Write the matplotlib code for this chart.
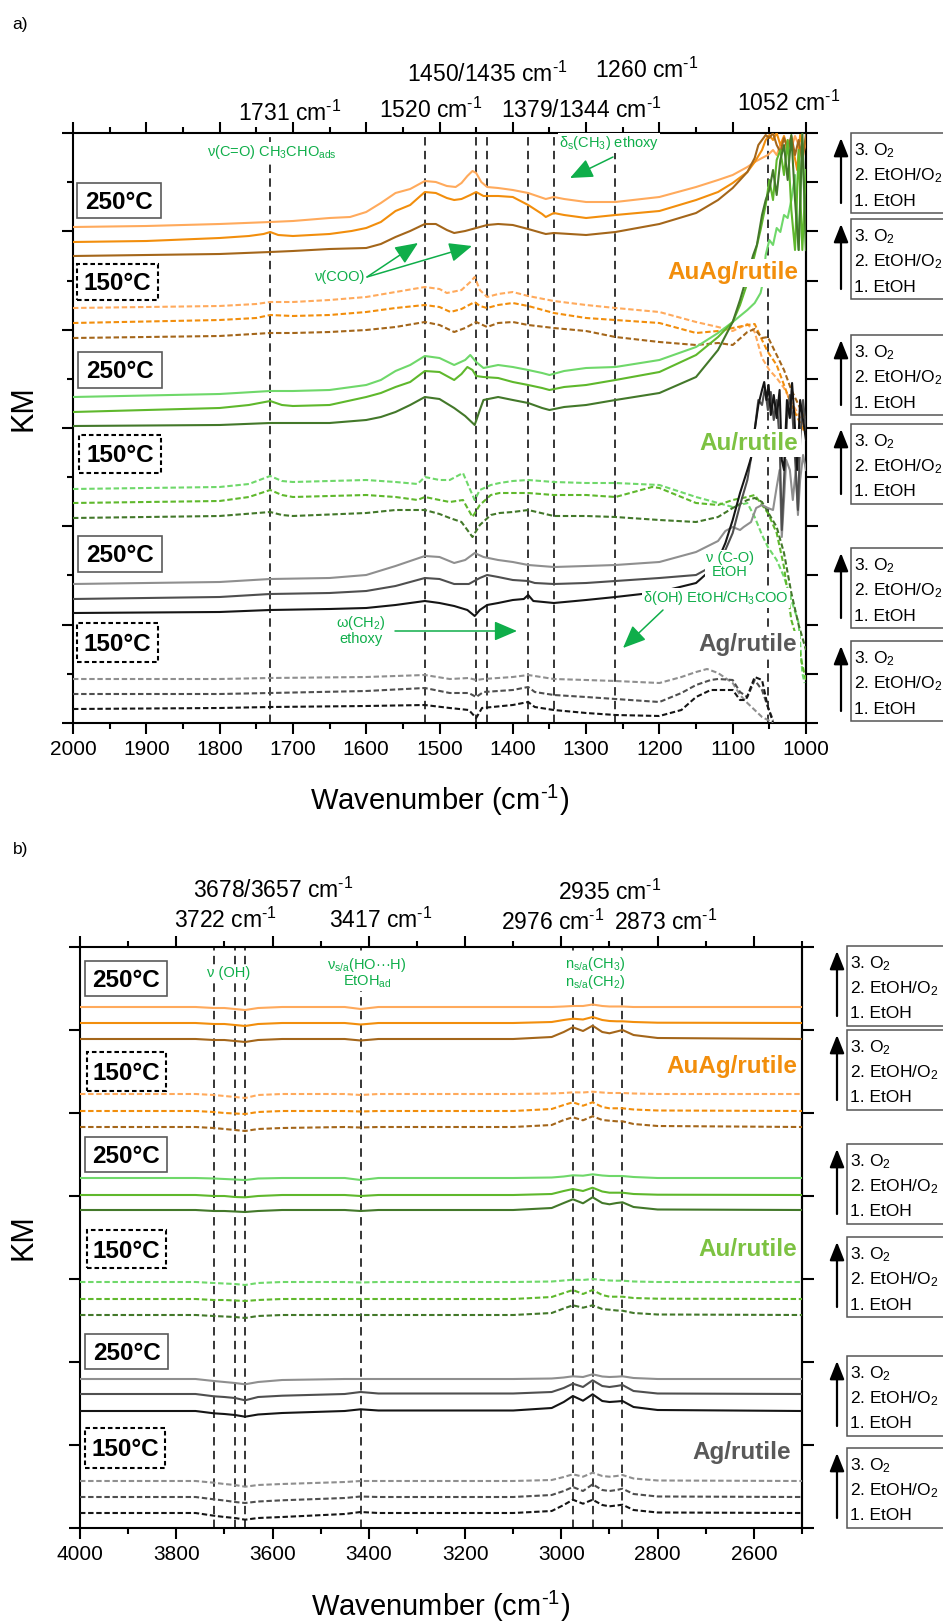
import matplotlib
matplotlib.use("Agg")
import matplotlib.pyplot as plt
from matplotlib import font_manager
from matplotlib.mathtext import MathTextParser
from matplotlib.patches import Rectangle, FancyArrowPatch
from matplotlib.ticker import MultipleLocator

# ---------------------------------------------------------------- fonts
_installed = {f.name for f in font_manager.fontManager.ttflist}
NARROW = "Liberation Sans Narrow" if "Liberation Sans Narrow" in _installed else "Liberation Sans"
TICK_SIZE = 16.5 if NARROW == "Liberation Sans Narrow" else 15
plt.rcParams["font.family"] = ["Liberation Sans", "DejaVu Sans"]
plt.rcParams["mathtext.fontset"] = "custom"
plt.rcParams["mathtext.rm"] = "Liberation Sans"
plt.rcParams["mathtext.it"] = "Liberation Sans:italic"
plt.rcParams["mathtext.bf"] = "Liberation Sans:bold"

# superscript "-1" written with a plain hyphen when mathtext allows it
try:
    MathTextParser("agg").parse(r"$^{\text{-}1}$", dpi=100)
    INV = r"$^{\text{-}1}$"
except Exception:
    INV = r"$^{-1}$"
CM = "cm" + INV

# ---------------------------------------------------------------- data
# (a) fingerprint region, KM (arbitrary units) vs wavenumber / cm-1
a_auag_250_o2 = [(2000, 496), (1900, 497), (1800, 499), (1731, 501), (1700, 502), (1650, 505), (1622, 506),
                 (1600, 511), (1580, 520), (1560, 530), (1540, 534), (1520, 542), (1505, 541), (1490, 537),
                 (1478, 536), (1470, 540), (1462, 547), (1455, 552), (1450, 550), (1443, 541), (1435, 536),
                 (1420, 535), (1400, 533), (1379, 530), (1355, 524), (1344, 526), (1330, 524), (1300, 521),
                 (1260, 521), (1200, 526), (1150, 536), (1120, 543), (1100, 548), (1080, 556), (1070, 561),
                 (1060, 565), (1052, 568), (1045, 573), (1040, 568), (1035, 578), (1030, 573), (1025, 583),
                 (1020, 575), (1015, 587), (1010, 578), (1005, 563), (1000, 583)]
a_auag_250_mix = [(2000, 481), (1900, 482), (1800, 485), (1760, 487), (1740, 489), (1731, 491), (1720, 488),
                  (1700, 487), (1650, 489), (1620, 492), (1600, 495), (1580, 501), (1560, 512), (1540, 518),
                  (1520, 531), (1505, 530), (1490, 525), (1480, 523), (1470, 524), (1458, 528), (1450, 531),
                  (1440, 527), (1420, 527), (1400, 526), (1379, 518), (1360, 509), (1355, 506), (1344, 510),
                  (1330, 508), (1300, 505), (1260, 508), (1200, 512), (1150, 523), (1120, 531), (1100, 540),
                  (1080, 551), (1070, 561), (1060, 573), (1055, 583), (1050, 588), (1045, 583), (1040, 590),
                  (1035, 578), (1030, 587), (1025, 573), (1020, 583), (1012, 553), (1008, 588), (1003, 573),
                  (1000, 585)]
a_auag_250_etoh = [(2000, 467), (1900, 468), (1800, 469), (1731, 471), (1700, 472), (1650, 474), (1600, 475),
                   (1580, 479), (1560, 486), (1540, 492), (1520, 499), (1505, 499), (1490, 493), (1480, 490),
                   (1465, 492), (1450, 495), (1435, 498), (1420, 499), (1400, 498), (1379, 494), (1360, 490),
                   (1355, 489), (1344, 490), (1300, 488), (1260, 491), (1200, 499), (1150, 510), (1120, 523),
                   (1100, 535), (1080, 551), (1070, 565), (1065, 578), (1060, 583), (1055, 588), (1050, 585),
                   (1045, 590), (1040, 578), (1035, 571), (1030, 585), (1025, 575), (1020, 587), (1015, 568),
                   (1010, 583), (1005, 563), (1000, 588)]

a_auag_150_o2 = [(2000, 415), (1800, 417), (1750, 419), (1731, 421), (1700, 421), (1650, 423), (1600, 426),
                 (1560, 431), (1520, 436), (1500, 434), (1490, 430), (1470, 433), (1458, 441), (1452, 446),
                 (1445, 433), (1435, 426), (1420, 429), (1400, 431), (1379, 427), (1344, 422), (1300, 418),
                 (1260, 415), (1200, 411), (1150, 401), (1120, 396), (1100, 392), (1080, 399), (1070, 391),
                 (1060, 365), (1050, 353), (1040, 345), (1030, 335), (1020, 321), (1010, 308), (1000, 293)]
a_auag_150_mix = [(2000, 400), (1800, 403), (1750, 405), (1731, 408), (1700, 407), (1650, 408), (1600, 411),
                  (1560, 415), (1520, 418), (1500, 416), (1485, 411), (1470, 414), (1452, 421), (1445, 417),
                  (1435, 415), (1420, 418), (1400, 420), (1379, 417), (1344, 410), (1300, 405), (1260, 403),
                  (1200, 400), (1150, 390), (1120, 392), (1100, 395), (1080, 398), (1070, 399), (1060, 383),
                  (1052, 371), (1040, 358), (1030, 338), (1020, 318), (1010, 303), (1000, 288)]
a_auag_150_etoh = [(2000, 385), (1800, 387), (1731, 390), (1700, 390), (1650, 391), (1600, 393), (1560, 396),
                   (1520, 401), (1500, 398), (1480, 391), (1465, 395), (1450, 401), (1435, 396), (1420, 400),
                   (1400, 401), (1379, 398), (1344, 395), (1300, 392), (1260, 386), (1200, 381), (1150, 378),
                   (1120, 380), (1100, 378), (1080, 391), (1070, 394), (1060, 385), (1052, 386), (1040, 368),
                   (1030, 353), (1020, 333), (1010, 318), (1000, 303)]

a_au_250_o2 = [(2000, 326), (1800, 329), (1731, 332), (1700, 332), (1650, 333), (1600, 338), (1580, 343),
               (1560, 352), (1540, 358), (1520, 367), (1500, 365), (1480, 358), (1465, 363), (1458, 368),
               (1450, 361), (1440, 355), (1420, 358), (1400, 356), (1379, 353), (1360, 350), (1350, 348),
               (1330, 352), (1300, 355), (1260, 356), (1200, 363), (1150, 376), (1120, 390), (1100, 401),
               (1080, 413), (1070, 420), (1062, 430), (1058, 443), (1055, 468), (1050, 483), (1045, 478),
               (1040, 495), (1035, 491), (1030, 508), (1025, 505), (1020, 523), (1015, 548), (1010, 473),
               (1005, 583), (1000, 473)]
a_au_250_mix = [(2000, 311), (1800, 315), (1760, 318), (1731, 322), (1715, 318), (1700, 317), (1650, 318),
                (1600, 326), (1580, 330), (1560, 336), (1540, 341), (1520, 352), (1500, 351), (1480, 343),
                (1470, 349), (1462, 356), (1455, 353), (1450, 347), (1440, 346), (1420, 345), (1400, 341),
                (1379, 338), (1360, 335), (1350, 333), (1330, 336), (1300, 338), (1260, 343), (1200, 351),
                (1150, 368), (1120, 386), (1100, 401), (1090, 418), (1080, 440), (1070, 468), (1062, 493),
                (1055, 518), (1050, 543), (1045, 523), (1040, 563), (1035, 573), (1030, 548), (1025, 583),
                (1020, 513), (1015, 473), (1010, 573), (1005, 473), (1000, 553)]
a_au_250_etoh = [(2000, 297), (1800, 298), (1731, 300), (1700, 300), (1650, 300), (1600, 303), (1580, 306),
                 (1560, 311), (1540, 318), (1520, 326), (1500, 324), (1480, 315), (1465, 307), (1452, 298),
                 (1445, 313), (1440, 323), (1420, 326), (1400, 323), (1379, 320), (1360, 315), (1350, 313),
                 (1330, 316), (1300, 318), (1260, 323), (1200, 330), (1150, 346), (1120, 373), (1100, 401),
                 (1090, 423), (1080, 448), (1072, 468), (1067, 478), (1060, 508), (1055, 523), (1050, 533),
                 (1045, 553), (1040, 528), (1035, 563), (1030, 578), (1025, 543), (1020, 588), (1015, 523),
                 (1010, 473), (1005, 590), (1000, 473)]

a_au_150_o2 = [(2000, 234), (1800, 236), (1760, 239), (1731, 247), (1715, 242), (1700, 241), (1650, 242),
               (1600, 243), (1560, 241), (1530, 239), (1520, 246), (1500, 243), (1486, 243), (1468, 250),
               (1458, 233), (1452, 223), (1445, 233), (1430, 238), (1418, 240), (1400, 242), (1379, 243),
               (1344, 241), (1300, 240), (1260, 240), (1200, 238), (1150, 226), (1120, 220), (1100, 216),
               (1080, 220), (1070, 206), (1060, 188), (1052, 176), (1040, 163), (1030, 146), (1020, 123),
               (1010, 100), (1005, 50), (1002, 40)]
a_au_150_mix = [(2000, 220), (1800, 222), (1760, 226), (1731, 233), (1715, 228), (1700, 226), (1650, 227),
                (1600, 228), (1560, 226), (1530, 223), (1520, 226), (1500, 223), (1486, 221), (1468, 223),
                (1455, 206), (1445, 218), (1430, 228), (1418, 230), (1400, 230), (1379, 230), (1344, 228),
                (1300, 228), (1260, 226), (1210, 236), (1200, 235), (1150, 220), (1120, 218), (1100, 223),
                (1080, 226), (1070, 228), (1060, 218), (1052, 210), (1040, 190), (1030, 156), (1020, 103),
                (1012, 83), (1005, 58), (1000, 43)]
a_au_150_etoh = [(2000, 205), (1800, 207), (1731, 211), (1715, 208), (1700, 207), (1600, 210), (1560, 213),
                 (1520, 213), (1500, 209), (1486, 205), (1470, 201), (1455, 186), (1445, 198), (1430, 208),
                 (1418, 210), (1400, 211), (1379, 213), (1344, 207), (1300, 207), (1260, 206), (1200, 203),
                 (1150, 201), (1120, 206), (1100, 215), (1080, 223), (1070, 225), (1060, 221), (1052, 211),
                 (1040, 196), (1030, 170), (1020, 130), (1010, 98), (1000, 73)]

a_ag_250_o2 = [(2000, 139), (1800, 141), (1731, 144), (1650, 145), (1600, 148), (1560, 157), (1540, 162),
               (1520, 167), (1500, 166), (1480, 160), (1465, 163), (1452, 170), (1440, 166), (1420, 163),
               (1400, 161), (1379, 158), (1344, 156), (1300, 157), (1260, 158), (1200, 161), (1150, 171),
               (1120, 182), (1110, 192), (1100, 196), (1090, 193), (1085, 196), (1075, 201), (1068, 215),
               (1060, 218), (1052, 215), (1045, 213), (1040, 236), (1036, 253), (1033, 186), (1030, 223),
               (1027, 263), (1022, 253), (1018, 223), (1014, 253), (1011, 208), (1008, 243), (1004, 268),
               (1000, 253)]
a_ag_250_mix = [(2000, 124), (1800, 126), (1731, 129), (1650, 130), (1600, 132), (1560, 137), (1520, 145),
                (1500, 144), (1480, 139), (1460, 139), (1445, 145), (1435, 148), (1420, 146), (1400, 143),
                (1379, 142), (1370, 140), (1344, 139), (1300, 140), (1260, 142), (1200, 145), (1150, 148),
                (1130, 156), (1120, 163), (1110, 173), (1100, 190), (1090, 218), (1080, 243), (1075, 265),
                (1070, 293), (1065, 323), (1060, 318), (1056, 335), (1052, 313), (1048, 331), (1044, 303),
                (1040, 323), (1036, 283), (1033, 193), (1030, 243), (1026, 303), (1022, 328), (1018, 303),
                (1014, 253), (1011, 213), (1008, 283), (1004, 323), (1000, 293)]
a_ag_250_etoh = [(2000, 110), (1800, 111), (1731, 113), (1650, 114), (1600, 115), (1560, 118), (1520, 122),
                 (1500, 120), (1480, 117), (1462, 113), (1452, 107), (1445, 113), (1435, 118), (1420, 120),
                 (1400, 123), (1385, 124), (1379, 128), (1372, 122), (1344, 120), (1300, 123), (1260, 126),
                 (1200, 131), (1150, 140), (1130, 153), (1120, 163), (1110, 180), (1100, 203), (1090, 230),
                 (1080, 253), (1075, 265), (1070, 293), (1065, 318), (1060, 333), (1057, 341), (1054, 323),
                 (1051, 338), (1048, 308), (1044, 328), (1040, 305), (1036, 333), (1033, 263), (1030, 253),
                 (1026, 323), (1022, 305), (1019, 340), (1016, 308), (1012, 253), (1008, 323), (1004, 303),
                 (1000, 283)]

a_ag_150_o2 = [(2000, 44), (1800, 44), (1731, 45), (1600, 46), (1520, 48), (1486, 44), (1460, 45), (1450, 43),
               (1440, 44), (1400, 46), (1379, 48), (1344, 44), (1300, 43), (1260, 42), (1200, 40), (1170, 46),
               (1150, 51), (1135, 54), (1120, 50), (1100, 40), (1090, 28), (1080, 20), (1070, 13), (1060, 6),
               (1052, 3), (1045, 0)]
a_ag_150_mix = [(2000, 29), (1800, 29), (1731, 30), (1600, 32), (1520, 35), (1486, 30), (1460, 30), (1450, 26),
                (1440, 31), (1400, 33), (1379, 36), (1370, 31), (1344, 28), (1300, 26), (1260, 24), (1200, 21),
                (1170, 30), (1150, 38), (1130, 43), (1120, 44), (1100, 43), (1090, 31), (1080, 26), (1070, 43),
                (1060, 33), (1052, 16), (1045, 3)]
a_ag_150_etoh = [(2000, 14), (1800, 15), (1731, 16), (1600, 17), (1520, 18), (1486, 15), (1460, 13), (1450, 5),
                 (1442, 15), (1400, 18), (1379, 21), (1370, 16), (1344, 13), (1300, 10), (1260, 8), (1200, 7),
                 (1170, 13), (1150, 26), (1130, 33), (1120, 33), (1100, 33), (1090, 23), (1082, 23), (1070, 46),
                 (1060, 43), (1052, 16), (1045, 1)]

a_bands = [1731, 1520, 1450, 1435, 1379, 1344, 1260, 1052]

# (b) OH / CH stretching region
b_wavenumber = [4000, 3760, 3722, 3700, 3678, 3657, 3630, 3580, 3450, 3417, 3380, 3100,
                3020, 2995, 2976, 2955, 2935, 2915, 2900, 2885, 2873, 2850, 2800, 2500]
b_auag_250_o2 = [521, 521, 520, 520, 519, 518, 520, 521, 521, 519, 521, 521,
                 521, 521.5, 522, 522, 523.5, 522, 521.5, 521.5, 521.5, 521, 521, 521]
b_auag_250_mix = [505, 505, 504, 504, 503, 502, 504, 505, 505, 503.5, 505, 505,
                  506, 508, 509.3, 508.5, 511, 508, 507, 506.7, 506.7, 506, 505.3, 505]
b_auag_250_etoh = [489, 489, 488, 488, 487, 486, 488, 489, 489, 487.5, 489, 489,
                   491, 496, 500.7, 497, 502.3, 496, 494.7, 496.5, 498, 493, 490, 489]
b_auag_150_o2 = [434, 434, 433, 432, 431, 430, 433, 434, 434, 433, 434, 434,
                 434.5, 435, 435.7, 435.5, 436.3, 435.5, 435, 435, 435, 434.5, 434, 434]
b_auag_150_mix = [417, 417, 416, 415, 414.5, 414, 416, 417, 417, 416.5, 417, 417,
                  419, 423, 425.7, 422.3, 425.7, 421, 419.7, 419.7, 419.7, 418.5, 417.5, 417]
b_auag_150_etoh = [401, 401, 400, 399, 398, 397, 399, 400, 401, 400.5, 401, 401,
                   403, 408, 410.7, 407.7, 411.7, 408, 407.3, 406.7, 406.7, 404, 402, 401]
b_au_250_o2 = [350, 350, 349.5, 349, 348.5, 348, 349.5, 350, 350, 348, 350, 350,
               350.5, 351.5, 352.7, 352.3, 353.7, 352.5, 352, 352, 352, 351, 350, 350]
b_au_250_mix = [333, 333, 332, 332, 331, 330.7, 332, 333, 333, 332, 333, 333,
                334, 337, 339, 337, 340.3, 336.5, 335.3, 335.3, 335.3, 334, 333.3, 333]
b_au_250_etoh = [318, 318, 317, 317, 316.5, 316, 317, 318, 318, 317, 318, 318,
                 320, 325, 328.7, 324.7, 330.7, 325, 323.7, 325, 325.7, 321, 318.5, 318]
b_au_150_o2 = [246, 246, 245, 244.5, 244, 243, 245, 246, 246, 245.5, 246, 246,
               246.5, 247.5, 248.3, 248, 249, 248, 247.5, 247.3, 247.3, 246.5, 246, 246]
b_au_150_mix = [229, 229, 228, 228, 227.5, 227, 228, 229, 229, 229, 229, 229,
                231, 235, 238, 234, 238, 233, 231.3, 231.3, 231.3, 230, 229.3, 229]
b_au_150_etoh = [213, 213, 212, 211.5, 211, 210, 212, 213, 213, 213, 213, 213,
                 215, 219.5, 222.7, 220.3, 222.7, 219, 218.3, 217.5, 217.3, 215, 213.5, 213]
b_ag_250_o2 = [149, 149, 147, 146, 145, 143.7, 146, 148, 149, 149, 149, 149,
               149.5, 150.5, 151.7, 151, 153.7, 151.5, 151, 151.3, 151.7, 150, 149, 149]
b_ag_250_mix = [134, 134, 131.7, 131, 130, 127.7, 131, 132.3, 134, 136, 134.5, 134.5,
                136, 140, 144.3, 141, 147.7, 142, 141, 142, 143, 137, 134.5, 134]
b_ag_250_etoh = [117, 117, 114.7, 114, 113, 111.3, 113.5, 115, 117, 118.7, 117.5, 117.5,
                 120, 126, 132, 127.3, 133.7, 127, 126, 126.5, 127, 121, 118, 117]
b_ag_150_o2 = [47, 47, 45.3, 44, 43, 41.3, 43, 44, 46, 47, 47, 47,
               48, 51, 53.7, 51.3, 55.3, 52, 51.3, 52, 53, 49.5, 47.5, 47]
b_ag_150_mix = [31, 31, 28.7, 27.5, 26, 25, 26.5, 27.7, 30, 31.5, 31, 31,
                33, 37, 41, 37, 43.7, 38, 37, 38, 39.3, 34, 31.5, 31]
b_ag_150_etoh = [15, 15, 12.3, 11, 10, 8.3, 10, 11, 14, 16, 15, 15,
                 17, 23, 28.3, 24.3, 28.3, 23, 21.7, 22.5, 23.3, 18, 15.5, 15]

b_bands = [3722, 3678, 3657, 3417, 2976, 2935, 2873]

stage_labels = ["3. O$_2$", "2. EtOH/O$_2$", "1. EtOH"]
catalysts = ["AuAg/rutile", "Au/rutile", "Ag/rutile"]
temperatures = ["250°C", "150°C"]

# ---------------------------------------------------------------- style
AUAG = ["#FFAA5C", "#F28E0C", "#A4661A"]
AU = ["#6FD86A", "#5FB82C", "#43782A"]
AG = ["#8F8F8F", "#4F4F4F", "#151515"]
LABEL_COL = ["#F28E0C", "#7DC242", "#595959"]
GREEN = "#0FAE4A"

W_PX, H_PX = 943, 1622
fig = plt.figure(figsize=(W_PX / 100, H_PX / 100), dpi=100)


def fx(x):
    return x / W_PX


def fy(y):
    return 1.0 - y / H_PX


ax_a = fig.add_axes([fx(73), fy(723), (806 - 73) / W_PX, (723 - 133) / H_PX])
ax_b = fig.add_axes([fx(80), fy(1528), (802 - 80) / W_PX, (1528 - 947) / H_PX])


def draw_curve(ax, wn, km, color, dashed):
    if dashed:
        ax.plot(wn, km, color=color, lw=1.5, dashes=(2.6, 1.3), zorder=3)
    else:
        ax.plot(wn, km, color=color, lw=1.5, zorder=3)


a_groups = [
    ([a_auag_250_o2, a_auag_250_mix, a_auag_250_etoh], AUAG, False),
    ([a_auag_150_o2, a_auag_150_mix, a_auag_150_etoh], AUAG, True),
    ([a_au_250_o2, a_au_250_mix, a_au_250_etoh], AU, False),
    ([a_au_150_o2, a_au_150_mix, a_au_150_etoh], AU, True),
    ([a_ag_250_o2, a_ag_250_mix, a_ag_250_etoh], AG, False),
    ([a_ag_150_o2, a_ag_150_mix, a_ag_150_etoh], AG, True),
]
for curves, cols, dashed in a_groups:
    for pts, col in zip(curves, cols):
        wn, km = zip(*pts)
        draw_curve(ax_a, wn, km, col, dashed)

b_groups = [
    ([b_auag_250_o2, b_auag_250_mix, b_auag_250_etoh], AUAG, False),
    ([b_auag_150_o2, b_auag_150_mix, b_auag_150_etoh], AUAG, True),
    ([b_au_250_o2, b_au_250_mix, b_au_250_etoh], AU, False),
    ([b_au_150_o2, b_au_150_mix, b_au_150_etoh], AU, True),
    ([b_ag_250_o2, b_ag_250_mix, b_ag_250_etoh], AG, False),
    ([b_ag_150_o2, b_ag_150_mix, b_ag_150_etoh], AG, True),
]
for curves, cols, dashed in b_groups:
    for km, col in zip(curves, cols):
        draw_curve(ax_b, b_wavenumber, km, col, dashed)

for band in a_bands:
    ax_a.axvline(band, color="black", lw=1.1, dashes=(5.5, 3.5), zorder=2)
for band in b_bands:
    ax_b.axvline(band, color="black", lw=1.1, dashes=(5.5, 3.5), zorder=2)

# ---------------------------------------------------------------- axes
def style_axes(ax, xlim, xmaj, xmin, ylim, ymaj, ymin, right_step):
    ax.set_xlim(*xlim)
    ax.set_ylim(*ylim)
    ax.xaxis.set_major_locator(MultipleLocator(xmaj))
    ax.xaxis.set_minor_locator(MultipleLocator(xmin))
    ax.yaxis.set_major_locator(MultipleLocator(ymaj))
    if ymin:
        ax.yaxis.set_minor_locator(MultipleLocator(ymin))
    else:
        ax.yaxis.set_minor_locator(MultipleLocator(ymaj))
    for sp in ax.spines.values():
        sp.set_linewidth(1.5)
    ax.tick_params(which="major", direction="out", length=8, width=1.5,
                   top=True, bottom=True, left=True, right=False,
                   labelleft=False, labeltop=False, labelsize=TICK_SIZE, pad=4)
    ax.tick_params(which="minor", direction="out", length=4.3 if ymin else 0, width=1.5,
                   top=True, bottom=True, left=True, right=False)
    ax.tick_params(axis="x", which="minor", length=4.3)
    sec = ax.secondary_yaxis("right")
    sec.yaxis.set_major_locator(MultipleLocator(right_step))
    sec.tick_params(direction="out", length=8.3, width=1.5, labelright=False)
    sec.spines["right"].set_linewidth(1.5)


style_axes(ax_a, (2000, 1000), 100, 50, (0, 590), 590 / 6, 590 / 12, 590 / 12)
style_axes(ax_b, (4000, 2500), 200, 100, (0, 581), 83, None, 83)
ax_a.set_xticks(range(2000, 999, -100))
ax_a.set_xticklabels([str(v) for v in range(2000, 999, -100)], family=NARROW, fontsize=TICK_SIZE)
ax_b.set_xticks(range(4000, 2599, -200))
ax_b.set_xticklabels([str(v) for v in range(4000, 2599, -200)], family=NARROW, fontsize=TICK_SIZE)

# axis titles
fig.text(fx(440), fy(800), "Wavenumber (" + CM + ")", ha="center", va="center", fontsize=21)
fig.text(fx(441), fy(1606), "Wavenumber (" + CM + ")", ha="center", va="center", fontsize=21)
fig.text(fx(23), fy(408), "KM", rotation=90, ha="center", va="center", fontsize=22)
fig.text(fx(23), fy(1237), "KM", rotation=90, ha="center", va="center", fontsize=22)
fig.text(fx(12), fy(25), "a)", ha="left", va="center", fontsize=12.5)
fig.text(fx(13), fy(850), "b)", ha="left", va="center", fontsize=12.5)

# band position labels above each panel (centre x, baseline y)
a_top = [("1731 " + CM, 290, 121), ("1520 " + CM, 431, 118), ("1450/1435 " + CM, 487, 82),
         ("1379/1344 " + CM, 581, 118), ("1260 " + CM, 647, 78), ("1052 " + CM, 789, 111)]
b_top = [("3678/3657 " + CM, 273, 898), ("3722 " + CM, 226, 928), ("3417 " + CM, 381, 928),
         ("2935 " + CM, 610, 900), ("2976 " + CM, 553, 930), ("2873 " + CM, 666, 930)]
for s, x, y in a_top + b_top:
    fig.text(fx(x), fy(y), s, ha="center", va="baseline", fontsize=16.5)

# temperature boxes
def temp_box(x0, y0, x1, y1, label, dashed):
    r = Rectangle((fx(x0), fy(y1)), fx(x1) - fx(x0), fy(y0) - fy(y1), transform=fig.transFigure,
                  fc="white", ec="black" if dashed else "#5a5a5a", lw=1.5 if dashed else 1.2,
                  ls=(0, (2.2, 1.4)) if dashed else "-", zorder=5)
    fig.add_artist(r)
    fig.text(fx((x0 + x1) / 2), fy((y0 + y1) / 2 + 8.5), label, ha="center", va="baseline",
             fontsize=17.5, fontweight="bold", zorder=6)


a_boxes = [(77, 183, 161, 218), (77, 264, 158, 300), (78, 352, 162, 388),
           (79, 435, 161, 473), (78, 536, 162, 572), (77, 623, 158, 662)]
b_boxes = [(85, 961, 167, 996), (87, 1052, 166, 1091), (85, 1137, 167, 1172),
           (87, 1230, 166, 1268), (85, 1334, 168, 1369), (85, 1428, 165, 1468)]
for i, bx in enumerate(a_boxes + b_boxes):
    temp_box(*bx, temperatures[i % 2], i % 2 == 1)

# catalyst names
a_names = [(798, 271), (798, 441), (797, 643)]
b_names = [(797, 1065), (797, 1248), (791, 1450)]
for (x, y), name, col in zip(a_names + b_names, catalysts * 2, LABEL_COL * 2):
    fig.text(fx(x), fy(y + 8.5), name, ha="right", va="baseline", fontsize=17.5,
             fontweight="bold", color=col, zorder=6,
             bbox=dict(boxstyle="square,pad=0.12", fc="white", ec="none"))

# gas-sequence boxes
def stage_box(x_box, x_arrow, top):
    r = Rectangle((fx(x_box), fy(top + 80)), fx(975) - fx(x_box), fy(top) - fy(top + 80),
                  transform=fig.transFigure, fc="white", ec="#555555", lw=1.1, zorder=5)
    fig.add_artist(r)
    for s, off in zip(stage_labels, (22.5, 47.5, 72.5)):
        fig.text(fx(x_box + 3), fy(top + off), s, ha="left", va="baseline", fontsize=12.5, zorder=6)
    arr = FancyArrowPatch((fx(x_arrow), fy(top + 70)), (fx(x_arrow), fy(top + 5)),
                          transform=fig.transFigure, arrowstyle="-|>,head_length=0.55,head_width=0.22",
                          mutation_scale=20, lw=1.6, color="black", shrinkA=0, shrinkB=0, zorder=6)
    fig.add_artist(arr)


for top in (133, 219, 335, 424, 548, 641):
    stage_box(851, 841, top)
for top in (946, 1030, 1144, 1237, 1356, 1448):
    stage_box(847, 837, top)

# band assignments
def note(x, y, s, **kw):
    fig.text(fx(x), fy(y), s, ha="center", va="center", fontsize=10.5, color=GREEN, zorder=6,
             bbox=dict(boxstyle="square,pad=0.05", fc="white", ec="none"), **kw)


def green_arrow(x0, y0, x1, y1):
    arr = FancyArrowPatch((fx(x0), fy(y0)), (fx(x1), fy(y1)), transform=fig.transFigure,
                          arrowstyle="-|>,head_length=0.7,head_width=0.3", mutation_scale=20,
                          lw=1.1, color=GREEN, shrinkA=0, shrinkB=0, zorder=6)
    fig.add_artist(arr)


note(272, 152, r"ν(C=O) CH$_3$CHO$_{\mathrm{ads}}$")
note(609, 143, r"δ$_{\mathrm{s}}$(CH$_3$) ethoxy")
green_arrow(613, 157, 570, 178)
note(340, 277, "ν(COO)")
green_arrow(367, 277, 418, 243)
green_arrow(367, 277, 472, 246)
note(361, 630, r"ω(CH$_2$)" + "\nethoxy", linespacing=1.0)
green_arrow(395, 631, 517, 631)
note(730, 565, "ν (C-O)\nEtOH", linespacing=1.0)
note(716, 598, r"δ(OH) EtOH/CH$_3$COO")
green_arrow(663, 610, 623, 648)

note(229, 973, "ν (OH)")
note(367, 973, r"ν$_{\mathrm{s/a}}$(HO···H)" + "\n" + r"EtOH$_{\mathrm{ad}}$", linespacing=1.0)
note(595, 973, r"n$_{\mathrm{s/a}}$(CH$_3$)" + "\n" + r"n$_{\mathrm{s/a}}$(CH$_2$)", linespacing=1.0)

fig.savefig("out.png", dpi=100)
